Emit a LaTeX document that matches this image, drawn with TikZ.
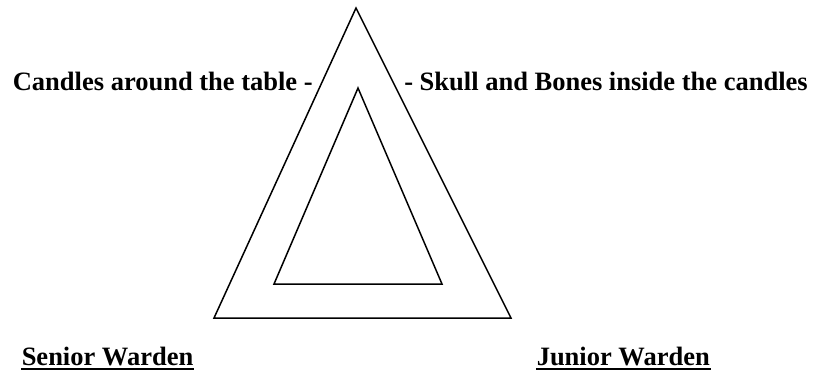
\documentclass[tikz,border=0pt]{standalone}
\usepackage{fontspec}
\setmainfont{Liberation Serif}
\usetikzlibrary{positioning}

\begin{document}
\begin{tikzpicture}[x=1pt,y=-1pt,line width=1.5pt,
  lbl/.style={inner sep=0pt,font=\bfseries\fontsize{26.5}{30}\selectfont}]
\useasboundingbox (0,0) rectangle (813,375);
%\draw[help lines] (0,0) grid[step=50] (813,375);
% outer and inner table
\foreach \n/\x/\y in {oa/356/8,ol/214/318,or/511/318,ia/358/88,il/274/284,ir/442/284}
\coordinate (\n) at (\x,\y);
\draw (oa)--(ol)--(or)--cycle;
\draw (ia)--(il)--(ir)--cycle;
%
\node[lbl,anchor=base east] (candles) at (313.5,90.5) {Candles around the table -};
\node[lbl,anchor=base west] (skull) at (403.5,90.5) {- Skull and Bones inside the candles};
%
\node[lbl,anchor=base west] (senior) at (21,365) {Senior Warden};
\node[lbl,anchor=base west] (junior) at (536,365) {Junior Warden};
\foreach \w in {senior,junior}
\draw[line width=2pt] ([yshift=-3.5pt]\w.base west)--([yshift=-3.5pt]\w.base east);
\end{tikzpicture}
\end{document}
